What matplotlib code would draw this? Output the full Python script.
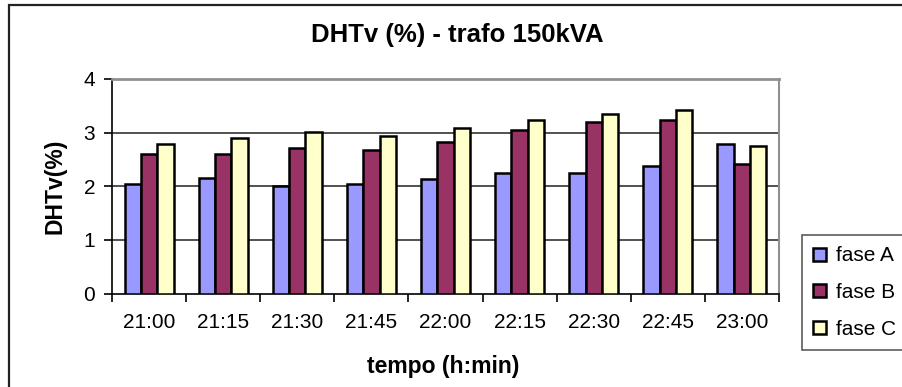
import numpy as np
import matplotlib.pyplot as plt
from matplotlib.patches import Rectangle

plt.rcParams['font.family'] = ['Liberation Sans', 'DejaVu Sans']

# DHTv readings per phase, every 15 minutes
horarios = ['21:00', '21:15', '21:30', '21:45', '22:00', '22:15', '22:30', '22:45', '23:00']
fase_a = [2.05, 2.16, 2.01, 2.05, 2.13, 2.24, 2.24, 2.38, 2.79]
fase_b = [2.60, 2.60, 2.71, 2.68, 2.83, 3.04, 3.19, 3.23, 2.42]
fase_c = [2.79, 2.90, 3.01, 2.93, 3.08, 3.23, 3.35, 3.42, 2.75]

cores = ['#9999FF', '#993366', '#FFFFCC']
nomes = ['fase A', 'fase B', 'fase C']

fig = plt.figure(figsize=(9.02, 3.87), dpi=100)
ax = fig.add_axes([112 / 902, 1 - 293.5 / 387, 667 / 902, 214.5 / 387])

x = np.arange(len(horarios))
w = 0.22
for i, (serie, cor, nome) in enumerate(zip([fase_a, fase_b, fase_c], cores, nomes)):
    ax.bar(x + (i - 1) * w, serie, w, color=cor, edgecolor='black',
           linewidth=1.8, label=nome, zorder=3)

ax.set_xlim(-0.5, len(horarios) - 0.5)
ax.set_ylim(0, 4)
ax.set_yticks(range(5))

# category labels centred, tick marks on category boundaries
ax.set_xticks(x)
ax.set_xticklabels(horarios)
ax.set_xticks(np.arange(-0.5, len(horarios), 1), minor=True)
ax.tick_params(axis='x', which='major', length=0, pad=14, labelsize=15)
ax.tick_params(axis='x', which='minor', length=6, width=1.2, direction='out')
ax.tick_params(axis='y', length=6, width=1.2, direction='out', labelsize=15, pad=6)

for yv in [1, 2, 3]:
    ax.axhline(yv, color='#333333', linewidth=1.2, zorder=1)

ax.spines['left'].set_linewidth(1.2)
ax.spines['bottom'].set_linewidth(1.2)
ax.spines['top'].set_color('#909090')
ax.spines['top'].set_linewidth(2)
ax.spines['right'].set_color('#909090')
ax.spines['right'].set_linewidth(1.5)

fig.text(457 / 902, 1 - 35 / 387, 'DHTv (%) - trafo 150kVA', fontsize=18.5,
         fontweight='bold', ha='center', va='center')
fig.text(55 / 902, 1 - 186 / 387, 'DHTv(%)', fontsize=16.5, fontweight='bold',
         rotation=90, ha='center', va='center')
fig.text(443 / 902, 1 - 366 / 387, 'tempo (h:min)', fontsize=16.5,
         fontweight='bold', ha='center', va='center')

leg = fig.legend(loc='upper left', bbox_to_anchor=(802 / 902, 1 - 235 / 387),
                 fontsize=15, frameon=True, fancybox=False, edgecolor='#333333',
                 handlelength=0.6, handleheight=0.6, handletextpad=0.5,
                 labelspacing=0.85, borderpad=0.55, borderaxespad=0)
leg.get_frame().set_linewidth(1.2)

# outer chart border
fig.patches.append(Rectangle((8.5 / 902, 0 - 0.1), 1.2, 1 - 5 / 387 + 0.1,
                             transform=fig.transFigure, fill=False,
                             edgecolor='#222222', linewidth=1.6))

fig.savefig('out.png', dpi=100)
